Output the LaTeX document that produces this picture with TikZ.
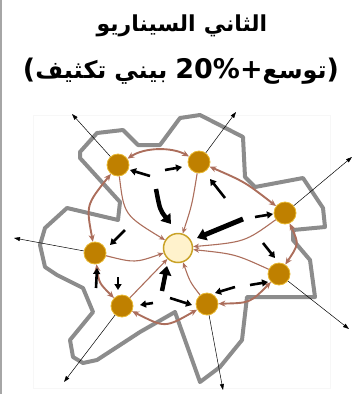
\documentclass[tikz,border=0pt]{standalone}
\usepackage{fontspec}
\newfontfamily\arabicfont[Script=Arabic]{DejaVu Sans}
\newfontfamily\latinfont{DejaVu Sans}
\usetikzlibrary{arrows.meta, calc}
\definecolor{hubfill}{HTML}{BF8000}
\definecolor{hubedge}{HTML}{E8B830}
\definecolor{corefill}{HTML}{FFF2CC}
\definecolor{coreedge}{HTML}{C9A227}
\definecolor{flow}{HTML}{AC6E5C}
\definecolor{rim}{HTML}{8C8C8C}
% one word per box, words set left to right as in the picture
\newcommand{\arw}[1]{\hbox{\arabicfont #1}}
\newcommand{\ltw}[1]{\hbox{\latinfont\fontsize{27}{32}\selectfont #1}}
\newcommand{\gap}{\hspace{8pt}}

\begin{document}
\begin{tikzpicture}[
  x=1pt, y=-1pt,
  hub/.style={circle, fill=hubfill, draw=hubedge, line width=0.8pt,
              minimum size=22pt, inner sep=0pt},
  core/.style={circle, fill=corefill, draw=coreedge, line width=1.5pt,
               minimum size=29pt, inner sep=0pt},
  title/.style={anchor=base, inner sep=0pt, font=\bfseries\fontsize{24}{30}\selectfont},
  link/.style={flow, line width=1.1pt, -{Stealth[length=6pt,width=5pt]}},
  tie/.style={flow, line width=1.9pt, {Stealth[length=7pt,width=6pt]}-{Stealth[length=7pt,width=6pt]}},
  push/.style={line width=2.6pt, -{Triangle[length=6pt,width=7pt]}},
  shove/.style={line width=5pt, -{Triangle[length=9pt,width=12pt]}},
  spread/.style={line width=0.5pt, -{Triangle[length=6pt,width=4pt]}},
]
  \useasboundingbox (0,0) rectangle (359,394);
  \draw[black!35, line width=1.5pt] (1,0) -- (1,394);
  \draw[black!3] (33,115) rectangle (330,388);

  % title
  \node[title, font=\bfseries\fontsize{22}{28}\selectfont] (head) at (182,31)
    {\arw{السيناريو}\gap\arw{الثاني}};
  \node[title] (sub) at (181,78)
    {\ltw{(}\arw{تكثيف}\gap\arw{بيني}\gap\ltw{20\%+}\arw{توسع}\ltw{)}};

  % urban edge
  \draw[rim, line width=4pt, line join=round]
    (97,133) -- (123,130) -- (138,145) -- (160,145) -- (180,118) -- (200,115)
    -- (243,137) -- (245,177) -- (255,187) -- (303,178) -- (323,208) -- (325,227)
    -- (293,230) -- (293,240) -- (310,260) -- (315,297) -- (247,297) -- (242,340)
    -- (220,367) -- (200,382) -- (175,312) -- (140,332) -- (117,347) -- (97,360)
    -- (83,363) -- (73,357) -- (70,340) -- (93,312) -- (83,288) -- (57,275)
    -- (45,267) -- (40,245) -- (45,228) -- (67,208) -- (118,220) -- (120,202)
    -- (80,158) -- (80,152) -- cycle;

  % centres
  \node[core] (mid) at (178,248) {};
  \node[hub] (tl) at (118,165) {};
  \node[hub] (tp) at (199,162) {};
  \node[hub] (rt) at (285,213) {};
  \node[hub] (lt) at (95,253) {};
  \node[hub] (bl) at (122,306) {};
  \node[hub] (bm) at (207,304) {};
  \node[hub] (rb) at (279,274) {};

  % outward growth
  \coordinate (ftl) at (72,114);
  \coordinate (ftp) at (236,112);
  \coordinate (frt) at (352,157);
  \coordinate (flt) at (14,238);
  \coordinate (fbl) at (64,382);
  \coordinate (fbm) at (223,390);
  \coordinate (frb) at (349,329);
  \draw[spread] (tl) -- (ftl);
  \draw[spread] (tp) -- (ftp);
  \draw[spread] (rt) -- (frt);
  \draw[spread] (lt) -- (flt);
  \draw[spread] (bl) -- (fbl);
  \draw[spread] (bm) -- (fbm);
  \draw[spread] (rb) -- (frb);

  % links between centres
  \draw[tie] (tl) .. controls (145,147) and (172,147) .. (tp);
  \draw[tie] (tp) .. controls (245,182) .. (rt);
  \draw[tie] (tl) .. controls (86,205) .. (lt);
  \draw[tie] (lt) .. controls (99,283) .. (bl);
  \draw[tie] (bl) .. controls (165,328) .. (bm);
  \draw[tie] (bm) .. controls (250,303) .. (rb);
  \draw[tie] (rt) .. controls (299,244) .. (rb);

  % flows to the core
  \draw[link] (tl) .. controls (124,215) .. (mid);
  \draw[link] (tp) .. controls (192,205) .. (mid);
  \draw[link] (rt) .. controls (245,242) .. (mid);
  \draw[link] (rb) .. controls (235,254) .. (mid);
  \draw[link] (bm) .. controls (190,282) .. (mid);
  \draw[link] (bl) -- (mid);
  \draw[link] (lt) .. controls (135,263) .. (mid);

  % pressure
  \draw[push] (150,176) -- (130,170);
  \draw[push] (165,170) -- (182,167);
  \draw[shove, line width=4.5pt] (156,189) .. controls (160,210) .. (171,224);
  \draw[push] (225,198) -- (210,179);
  \draw[shove] (243,219) -- (197,238);
  \draw[push] (255,217) -- (273,214);
  \draw[push] (263,243) -- (275,258);
  \draw[push] (235,287) -- (215,293);
  \draw[push] (250,285) -- (268,282);
  \draw[push] (170,298) -- (192,305);
  \draw[push] (153,303) -- (140,305);
  \draw[shove, line width=4.5pt] (162,291) -- (167,266);
  \draw[push] (118,277) -- (118,290);
  \draw[push] (96,288) -- (97,268);
  \draw[push] (125,230) -- (110,245);
\end{tikzpicture}
\end{document}
